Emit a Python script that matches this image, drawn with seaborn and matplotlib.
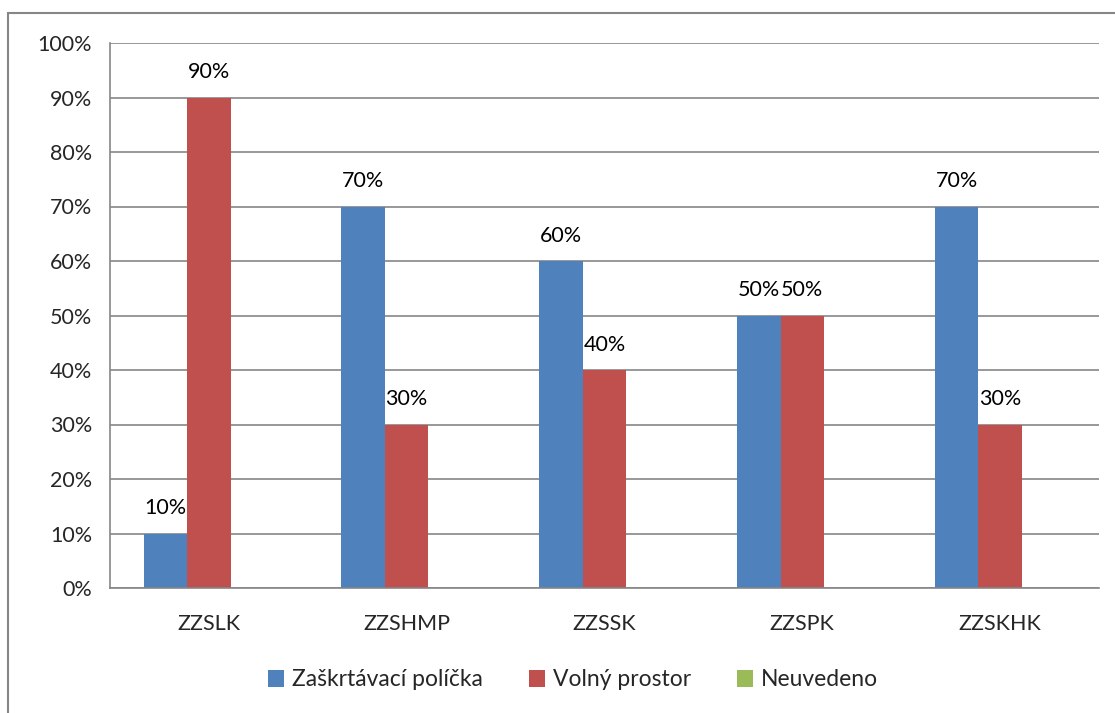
import pandas as pd
import seaborn as sns
import matplotlib.pyplot as plt
from matplotlib.patches import Rectangle, Patch
from matplotlib.ticker import PercentFormatter

# data
categories = ["ZZSLK", "ZZSHMP", "ZZSSK", "ZZSPK", "ZZSKHK"]
series = ["Zaškrtávací políčka", "Volný prostor", "Neuvedeno"]
zaskrtavaci = [10, 70, 60, 50, 70]
volny = [90, 30, 40, 50, 30]
neuvedeno = [0, 0, 0, 0, 0]
colors = ["#4F81BD", "#C0504D", "#9BBB59"]

rows = []
for name, vals in zip(series, [zaskrtavaci, volny, neuvedeno]):
    for c, v in zip(categories, vals):
        rows.append({"cat": c, "series": name, "value": v})
df = pd.DataFrame(rows)

sns.set_style("white")
plt.rcParams['font.family'] = ['Lato', 'DejaVu Sans']
FS = 15.5

fig = plt.figure(figsize=(11.15, 7.13), dpi=100)
ax = fig.add_axes([110 / 1115, 1 - 588 / 713, (1099 - 110) / 1115, (588 - 43) / 713])

sns.barplot(data=df, x="cat", y="value", hue="series", palette=colors,
            width=0.66, gap=0, saturation=1, linewidth=0, ax=ax, legend=False)

# data labels (skip zeros)
for cont in ax.containers:
    labels = [f"{int(round(b.get_height()))}%" if b.get_height() > 0 else "" for b in cont]
    ax.bar_label(cont, labels=labels, padding=11, fontsize=FS, color="black")

ax.set_ylim(0, 100)
ax.set_xlim(-0.5, len(categories) - 0.5)
ax.set_yticks(range(0, 101, 10))
ax.yaxis.set_major_formatter(PercentFormatter(decimals=0))
ax.yaxis.grid(True, color="#868686", linewidth=1.2)
ax.set_axisbelow(True)
ax.set_xlabel("")
ax.set_ylabel("")

# x ticks at category boundaries, labels centered
ax.set_xticks([i - 0.5 for i in range(len(categories) + 1)], minor=False)
ax.set_xticklabels([])
ax.set_xticks(range(len(categories)), minor=True)
ax.set_xticklabels(categories, minor=True, fontsize=FS)
ax.tick_params(axis="x", which="minor", length=0, pad=19)
ax.tick_params(axis="x", which="major", length=7, width=1.2, color="#868686", direction="out")
ax.tick_params(axis="y", length=7, width=1.2, color="#868686", direction="out", labelsize=FS, pad=6)

for s in ["top", "right"]:
    ax.spines[s].set_visible(False)
for s in ["left", "bottom"]:
    ax.spines[s].set_color("#868686")
    ax.spines[s].set_linewidth(1.2)

# legend below
handles = [Patch(facecolor=c, edgecolor="none") for c in colors]
fig.legend(handles, series, loc="center", bbox_to_anchor=(573 / 1115, 1 - 680 / 713),
           ncol=3, frameon=False, fontsize=16.5, handlelength=0.7, handleheight=0.7,
           handletextpad=0.35, columnspacing=2.0)

# outer chart frame
fig.patches.append(Rectangle((8 / 1115, -0.05), 1.2, 1 - 13 / 713 + 0.05,
                             transform=fig.transFigure, fill=False,
                             edgecolor="#868686", linewidth=1.5))

fig.savefig("out.png", dpi=100)
